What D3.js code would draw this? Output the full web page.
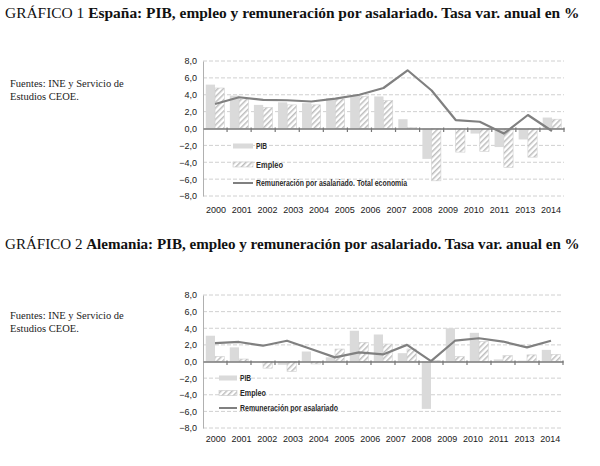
<!DOCTYPE html>
<html><head><meta charset="utf-8">
<script src="https://cdn.jsdelivr.net/npm/d3@7/dist/d3.min.js"></script>
<style>
html,body{margin:0;padding:0;background:#fff;}
svg{display:block;}
</style></head>
<body>
<svg id="c" width="600" height="466"></svg>
<script>
// ---- data ----
const years = ["2000","2001","2002","2003","2004","2005","2006","2007","2008","2009","2010","2011","2012","2013","2014"];
const xLabels = ["2000","2001","2002","2003","2004","2005","2006","2007","2008","2009","2010","2011","2013","2014"];
const yTicks = [-8,-6,-4,-2,0,2,4,6,8];

const espPIB     = [5.2, 3.9, 2.8, 3.1, 3.0, 3.6, 3.9, 3.8, 1.1, -3.6, -0.1, -0.6, -2.2, -1.3, 1.3];
const espEmpleo  = [4.8, 3.5, 2.5, 2.8, 2.8, 3.5, 3.8, 3.3, 0.1, -6.2, -2.8, -2.7, -4.6, -3.4, 1.1];
const espRemun   = [2.9, 3.7, 3.4, 3.35, 3.2, 3.55, 4.0, 4.8, 6.9, 4.5, 1.0, 0.8, -0.6, 1.6, -0.3];

const deuPIB     = [3.1, 1.7, 0.0, -0.4, 1.2, 0.5, 3.7, 3.25, 1.0, -5.7, 4.0, 3.45, 0.25, 0.1, 1.4];
const deuEmpleo  = [0.6, 0.3, -0.8, -1.2, -0.3, 1.5, 2.3, 2.1, 1.5, 0.1, 0.6, 2.4, 0.7, 0.8, 0.85];
const deuRemun   = [2.2, 2.35, 1.9, 2.5, 1.5, 0.5, 1.1, 0.85, 2.0, 0.05, 2.5, 2.8, 2.4, 1.7, 2.5];

const titles = [
  {pre:"GRÁFICO 1 ", bold:"España: PIB, empleo y remuneración por asalariado. Tasa var. anual en %"},
  {pre:"GRÁFICO 2 ", bold:"Alemania: PIB, empleo y remuneración por asalariado. Tasa var. anual en %"}
];
const sourceLines = ["Fuentes:  INE y Servicio de", "Estudios CEOE."];
const legendNames1 = ["PIB","Empleo","Remuneración por asalariado. Total economía"];
const legendNames2 = ["PIB","Empleo","Remuneración por asalariado"];

// ---- drawing ----
const svg = d3.select("#c");
const defs = svg.append("defs");
const pat = defs.append("pattern").attr("id","hatch").attr("patternUnits","userSpaceOnUse")
  .attr("width",4).attr("height",4).attr("patternTransform","rotate(45)");
pat.append("rect").attr("width",4).attr("height",4).attr("fill","#fff");
pat.append("rect").attr("x",0).attr("width",1.5).attr("height",4).attr("fill","#bdbdbd");

const PIBCOL = "#dadada", LINECOL = "#808080";
const SANS = "'Liberation Sans', Arial, sans-serif";
const SERIF = "'Liberation Serif', 'Times New Roman', serif";

function title(t, y) {
  const tx = svg.append("text").attr("x",5).attr("y",y)
    .style("font-family",SERIF).style("font-size","14px").attr("fill","#111");
  tx.append("tspan").text(t.pre);
  tx.append("tspan").attr("font-weight","bold").text(t.bold);
  const len = tx.node().getComputedTextLength();
  tx.style("font-size",(14*575/len).toFixed(2)+"px");
}

function source(y) {
  sourceLines.forEach((s,i)=>{
    svg.append("text").attr("x",10).attr("y",y+i*12.5).text(s)
      .style("font-family",SERIF).style("font-size","10.5px").attr("fill","#222");
  });
}

function chart(cfg) {
  const g = svg.append("g");
  const x = d3.scaleBand().domain(years).range([cfg.x0,cfg.x1]);
  const xl = d3.scaleBand().domain(xLabels).range([cfg.x0,cfg.x1]);
  const inner = d3.scaleBand().domain(["pib","emp"]).range([0,x.bandwidth()]).paddingInner(0).paddingOuter(0.3);
  const y = d3.scaleLinear().domain([-8,8]).range([cfg.yb,cfg.yt]);

  // grid
  g.selectAll(".grid").data(yTicks.filter(d=>d!==0)).join("line")
    .attr("x1",cfg.x0).attr("x2",cfg.x1).attr("y1",d=>y(d)).attr("y2",d=>y(d))
    .attr("stroke","#d0d0d0").attr("stroke-width",1).attr("stroke-dasharray","4,2");
  // y axis
  const ya = d3.axisLeft(y).tickValues(yTicks).tickSize(0).tickPadding(6)
    .tickFormat(d=>(d<0?"−":"")+d3.format(".1f")(Math.abs(d)).replace(".",","));
  const yg = g.append("g").attr("transform",`translate(${cfg.x0},0)`).call(ya);
  yg.select(".domain").attr("stroke","#b0b0b0");
  yg.selectAll("text").style("font-family",SANS).style("font-size","9px").attr("fill","#222");

  // bars
  const rows = years.map((yr,i)=>({yr, pib:cfg.pib[i], emp:cfg.emp[i], rem:cfg.rem[i]}));
  g.selectAll(".pib").data(rows).join("rect")
    .attr("x",d=>x(d.yr)+inner("pib")).attr("width",inner.bandwidth())
    .attr("y",d=>y(Math.max(0,d.pib))).attr("height",d=>Math.abs(y(d.pib)-y(0)))
    .attr("fill",PIBCOL);
  g.selectAll(".emp").data(rows).join("rect")
    .attr("x",d=>x(d.yr)+inner("emp")).attr("width",inner.bandwidth())
    .attr("y",d=>y(Math.max(0,d.emp))).attr("height",d=>Math.abs(y(d.emp)-y(0)))
    .attr("fill","url(#hatch)").attr("stroke","#d0d0d0").attr("stroke-width",0.6);

  // zero axis with band ticks
  const xa = d3.axisBottom(x).tickSize(0).tickFormat("");
  const xg = g.append("g").attr("transform",`translate(0,${y(0)})`).call(xa);
  xg.select(".domain").attr("stroke","#777").attr("stroke-width",1.4);
  g.selectAll(".bt").data(years.slice(1).concat(["end"])).join("line")
    .attr("x1",d=>d==="end"?cfg.x1:x(d)).attr("x2",d=>d==="end"?cfg.x1:x(d))
    .attr("y1",y(0)-1).attr("y2",y(0)+3.5).attr("stroke","#777").attr("stroke-width",1.2);

  // line
  g.append("path").datum(rows)
    .attr("d",d3.line().x(d=>x(d.yr)+x.bandwidth()/2).y(d=>y(d.rem)))
    .attr("fill","none").attr("stroke",LINECOL).attr("stroke-width",2.2).attr("stroke-linejoin","round");

  // x labels
  const xlab = d3.axisBottom(xl).tickSize(0).tickPadding(0);
  const xlg = g.append("g").attr("transform",`translate(0,${cfg.labY})`).call(xlab);
  xlg.select(".domain").remove();
  xlg.selectAll("text").style("font-family",SANS).style("font-size","9px").attr("fill","#1a1a1a");

  // legend
  const L = cfg.leg;
  cfg.legNames.forEach((name,i)=>{
    const ly = L.y + i*L.dy;
    if (i===0) g.append("rect").attr("x",L.x).attr("y",ly-2.5).attr("width",L.w).attr("height",5).attr("fill",PIBCOL);
    else if (i===1) g.append("rect").attr("x",L.x).attr("y",ly-2.5).attr("width",L.w).attr("height",5)
      .attr("fill","url(#hatch)").attr("stroke","#c8c8c8").attr("stroke-width",0.6);
    else g.append("line").attr("x1",L.x).attr("x2",L.x+L.w).attr("y1",ly).attr("y2",ly)
      .attr("stroke",LINECOL).attr("stroke-width",2);
    g.append("text").attr("x",L.x+L.w+3).attr("y",ly+3.2).text(name)
      .style("font-family",SANS).style("font-size","9px").style("font-weight","bold")
      .attr("fill","#2a2a2a")
      .attr("textLength",L.lens[i]).attr("lengthAdjust","spacingAndGlyphs");
  });
}

title(titles[0], 18);
source(87);
chart({x0:203, x1:564, yt:61, yb:196, labY:207, pib:espPIB, emp:espEmpleo, rem:espRemun,
  legNames:legendNames1, leg:{x:233, y:146, dy:18.5, w:20, lens:[11,27,151]}});

title(titles[1], 249);
source(319);
chart({x0:203, x1:563, yt:295, yb:428, labY:436, pib:deuPIB, emp:deuEmpleo, rem:deuRemun,
  legNames:legendNames2, leg:{x:219, y:378, dy:15, w:18, lens:[11,26,98]}});
</script>
</body></html>
